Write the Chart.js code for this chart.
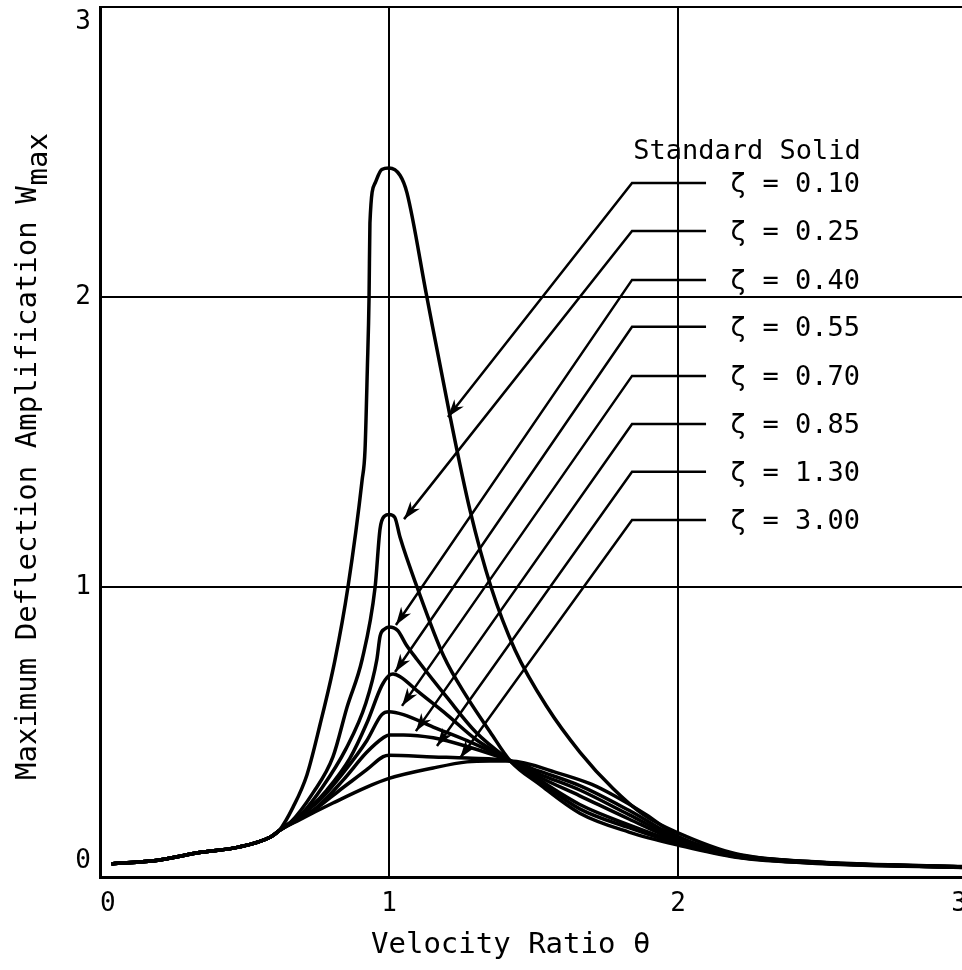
<!DOCTYPE html>
<html>
<head>
<meta charset="utf-8">
<script src="https://cdn.jsdelivr.net/npm/chart.js@4/dist/chart.umd.min.js"></script>
<style>
  html, body { margin: 0; padding: 0; background: #fff; }
  #wrap { position: relative; width: 962px; height: 970px; overflow: hidden; background: #fff; }
  #myChart { position: absolute; left: 0; top: -14px; }
</style>
</head>
<body>
<div id="wrap"><canvas id="myChart" width="980" height="990"></canvas></div>
<script>
// shared low-frequency part, all curves sit on top of each other here
const thetaBase = [0.04, 0.2, 0.35, 0.48, 0.59, 0.62];
const wBase     = [0.045, 0.058, 0.085, 0.103, 0.138, 0.16];

// zeta = 0.10
const theta010 = [0.668, 0.716, 0.761, 0.813, 0.858, 0.907, 0.917, 0.925, 0.931, 0.934, 0.952, 0.975, 1.0, 1.038, 1.062, 1.131, 1.211, 1.28, 1.353, 1.436, 1.547, 1.661, 1.775, 1.88, 2.0, 2.2, 2.5, 2.7, 3.0];
const w010     = [0.241, 0.352, 0.524, 0.748, 1.0, 1.369, 1.472, 1.75, 2.0, 2.255, 2.393, 2.44, 2.445, 2.42, 2.36, 2.0, 1.59, 1.266, 1.0, 0.783, 0.586, 0.43, 0.305, 0.215, 0.152, 0.08, 0.05, 0.042, 0.034];
// zeta = 0.25
const theta025 = [0.657, 0.737, 0.806, 0.855, 0.907, 0.952, 0.969, 0.985, 1.0, 1.02, 1.038, 1.097, 1.19, 1.27, 1.35, 1.42, 1.52, 1.66, 1.83, 2.0, 2.2, 2.5, 3.0];
const w025     = [0.186, 0.29, 0.414, 0.586, 0.75, 1.0, 1.2, 1.245, 1.25, 1.24, 1.172, 1.0, 0.76, 0.62, 0.50, 0.40, 0.32, 0.22, 0.155, 0.11, 0.068, 0.046, 0.032];
// zeta = 0.40
const theta040 = [0.70, 0.77, 0.85, 0.92, 0.958, 0.969, 0.985, 1.0, 1.03, 1.06, 1.097, 1.2, 1.3, 1.42, 1.52, 1.66, 1.83, 2.0, 2.2, 2.5, 3.0];
const w040     = [0.22, 0.31, 0.44, 0.60, 0.75, 0.83, 0.855, 0.862, 0.85, 0.80, 0.75, 0.62, 0.50, 0.40, 0.33, 0.235, 0.17, 0.115, 0.07, 0.047, 0.033];
// zeta = 0.55
const theta055 = [0.727, 0.785, 0.865, 0.923, 0.975, 1.0, 1.014, 1.04, 1.1, 1.2, 1.3, 1.42, 1.52, 1.66, 1.83, 2.0, 2.2, 2.5, 3.0];
const w055     = [0.24, 0.30, 0.41, 0.53, 0.66, 0.695, 0.70, 0.69, 0.64, 0.56, 0.475, 0.40, 0.335, 0.25, 0.18, 0.12, 0.071, 0.048, 0.033];
// zeta = 0.70
const theta070 = [0.76, 0.842, 0.923, 0.975, 1.0, 1.05, 1.153, 1.27, 1.42, 1.52, 1.66, 1.83, 2.0, 2.2, 2.5, 3.0];
const w070     = [0.265, 0.36, 0.47, 0.56, 0.57, 0.56, 0.517, 0.47, 0.40, 0.345, 0.28, 0.20, 0.125, 0.073, 0.048, 0.034];
// zeta = 0.85
const theta085 = [0.75, 0.842, 0.923, 0.98, 1.0, 1.05, 1.153, 1.27, 1.42, 1.52, 1.66, 1.83, 2.0, 2.2, 2.5, 3.0];
const w085     = [0.24, 0.335, 0.43, 0.48, 0.49, 0.49, 0.48, 0.45, 0.40, 0.355, 0.30, 0.215, 0.13, 0.075, 0.049, 0.034];
// zeta = 1.30
const theta130 = [0.74, 0.83, 0.923, 0.98, 1.0, 1.153, 1.27, 1.42, 1.52, 1.66, 1.83, 2.0, 2.2, 2.5, 3.0];
const w130     = [0.23, 0.30, 0.37, 0.415, 0.42, 0.414, 0.41, 0.40, 0.365, 0.315, 0.23, 0.135, 0.076, 0.05, 0.035];
// zeta = 3.00
const theta300 = [0.69, 0.806, 0.923, 1.0, 1.153, 1.27, 1.35, 1.42, 1.58, 1.7, 1.78, 1.89, 2.0, 2.2, 2.5, 3.0];
const w300     = [0.197, 0.255, 0.31, 0.34, 0.376, 0.397, 0.40, 0.40, 0.36, 0.32, 0.28, 0.215, 0.14, 0.078, 0.051, 0.036];

const zetaLabels = ['0.10', '0.25', '0.40', '0.55', '0.70', '0.85', '1.30', '3.00'];

// leader lines: arrow tip on the curve, knee, and end of the short horizontal
const tipTheta = [1.204, 1.052, 1.024, 1.021, 1.045, 1.093, 1.166, 1.246];
const tipW     = [1.586, 1.234, 0.869, 0.707, 0.590, 0.503, 0.452, 0.410];
const leaderW  = [2.393, 2.228, 2.059, 1.897, 1.728, 1.562, 1.397, 1.231];
const kneeTheta = 1.841;
const endTheta = 2.097;
const labelTheta = 2.18;

const curves = [
  [theta010, w010], [theta025, w025], [theta040, w040], [theta055, w055],
  [theta070, w070], [theta085, w085], [theta130, w130], [theta300, w300]
];

const font = { family: 'DejaVu Sans Mono', size: 26 };
const noteFont = '27px "DejaVu Sans Mono"';
const titleFont = '29px "DejaVu Sans Mono"';

function pts(xs, ys) {
  return xs.map((x, i) => ({ x: x, y: ys[i] }));
}

let datasets = curves.map(c => ({
  data: pts(thetaBase.concat(c[0]), wBase.concat(c[1])),
  borderColor: '#000',
  borderWidth: 3.5,
  cubicInterpolationMode: 'monotone',
  pointRadius: 0,
  fill: false
}));

leaderW.forEach((ly, i) => {
  datasets.push({
    data: [{ x: tipTheta[i], y: tipW[i] }, { x: kneeTheta, y: ly }, { x: endTheta, y: ly }],
    borderColor: '#000',
    borderWidth: 2.5,
    tension: 0,
    pointRadius: 0,
    fill: false,
    leader: true
  });
});

// no extra room for edge labels, the layout padding does it
function noPad(s) {
  s.paddingTop = 0; s.paddingBottom = 0; s.paddingLeft = 0; s.paddingRight = 0;
}

// arrow heads, labels and axis titles
const notes = {
  id: 'notes',
  afterDatasetsDraw(chart) {
    const ctx = chart.ctx;
    const xs = chart.scales.x, ys = chart.scales.y;
    ctx.save();
    ctx.fillStyle = '#000';
    chart.data.datasets.forEach((ds, i) => {
      if (!ds.leader) return;
      const m = chart.getDatasetMeta(i).data;
      const tx = m[0].x, ty = m[0].y, kx = m[1].x, ky = m[1].y;
      const a = Math.atan2(ty - ky, tx - kx);
      const len = 18, half = 6;
      ctx.beginPath();
      ctx.moveTo(tx, ty);
      ctx.lineTo(tx - len * Math.cos(a) - half * Math.sin(a), ty - len * Math.sin(a) + half * Math.cos(a));
      ctx.lineTo(tx - 0.7 * len * Math.cos(a), ty - 0.7 * len * Math.sin(a));
      ctx.lineTo(tx - len * Math.cos(a) + half * Math.sin(a), ty - len * Math.sin(a) - half * Math.cos(a));
      ctx.closePath();
      ctx.fill();
    });

    ctx.font = noteFont;
    ctx.textBaseline = 'middle';
    ctx.textAlign = 'left';
    zetaLabels.forEach((z, i) => {
      ctx.fillText('\u03b6 = ' + z, xs.getPixelForValue(labelTheta), ys.getPixelForValue(leaderW[i]) + 2);
    });
    ctx.fillText('Standard Solid', xs.getPixelForValue(1.845), ys.getPixelForValue(2.5));

    // x title
    ctx.font = titleFont;
    ctx.fillText('Velocity Ratio \u03b8', 371, 959);

    // y title with subscript
    ctx.translate(28, 794);
    ctx.rotate(-Math.PI / 2);
    const main = 'Maximum Deflection Amplification W';
    ctx.fillText(main, 0, 0);
    const wMain = ctx.measureText(main).width;
    ctx.fillText('max', wMain + 1, 11);
    ctx.restore();
  }
};

let myChart = new Chart(document.getElementById('myChart').getContext('2d'), {
  type: 'line',
  data: { datasets: datasets },
  options: {
    responsive: false,
    animation: false,
    layout: { padding: { left: 0, top: 21, right: 13, bottom: 0 } },
    plugins: { legend: { display: false }, tooltip: { enabled: false } },
    scales: {
      x: {
        type: 'linear', min: 0, max: 3,
        ticks: {
          stepSize: 1, color: '#000', font: font, padding: 12,
          // edge labels sit a little inside the frame
          callback: v => v === 0 ? ' 0' : (v === 3 ? '3 ' : String(v))
        },
        grid: { color: '#000', lineWidth: 2, drawTicks: false },
        border: { color: '#000', width: 3 },
        afterFit(s) { s.height = 99; noPad(s); }
      },
      y: {
        min: 0, max: 3,
        ticks: {
          stepSize: 1, color: '#000', font: font, padding: 9,
          callback: v => v === 3 ? ['', '3'] : (v === 0 ? ['0', ''] : String(v))
        },
        grid: { color: '#000', lineWidth: 2, drawTicks: false },
        border: { color: '#000', width: 3 },
        afterFit(s) { s.width = 100; noPad(s); }
      }
    }
  },
  plugins: [notes]
});
</script>
</body>
</html>
